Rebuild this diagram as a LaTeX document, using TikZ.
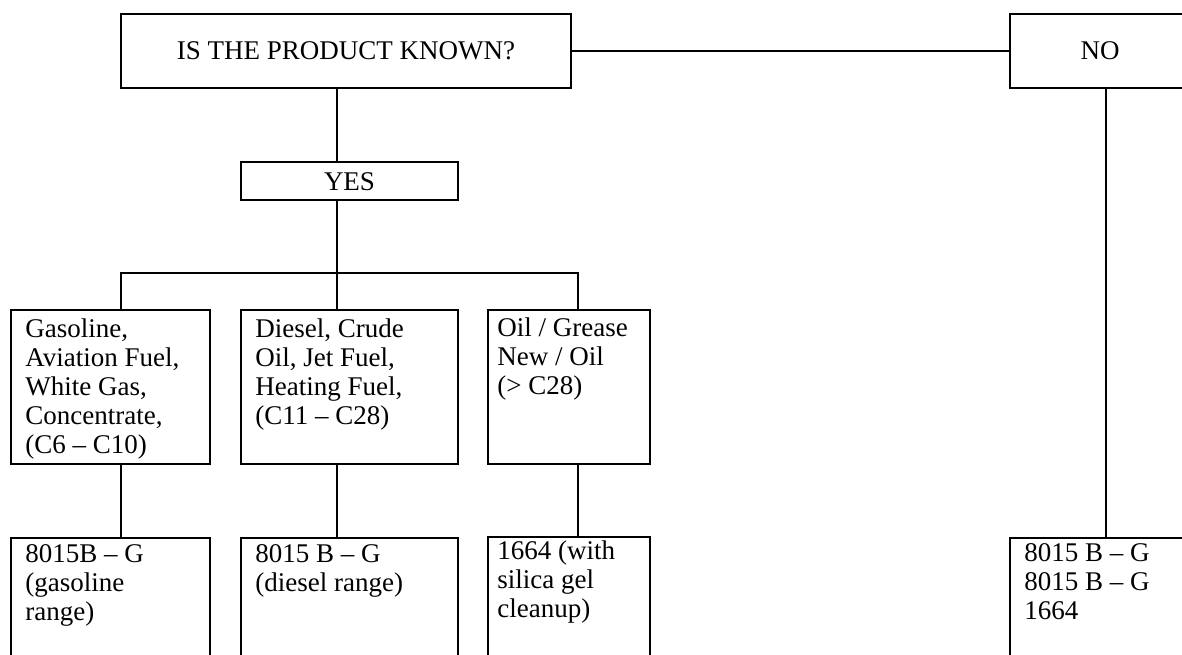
\documentclass[tikz,border=0pt]{standalone}
\usepackage{fontspec}
\setmainfont{Liberation Serif}
\tikzset{PKbox/.style={draw,line width=1.1pt,inner sep=0pt,font=\fontsize{13.5}{14.5}\selectfont},
         PKtxt/.style={inner sep=0pt,anchor=base west,font=\fontsize{13.5}{14.5}\selectfont},
         PKlink/.style={line width=1.1pt}}
\newcommand{\PKlines}[1]{\parbox[t]{5cm}{\raggedright #1}}

\begin{document}
\begin{tikzpicture}[x=0.5pt,y=-0.5pt]
  \useasboundingbox (0,0) rectangle (1182,654);
  \clip (0,0) rectangle (1182,654);
  % question and answers
  \node[PKbox,minimum width=225.2pt,minimum height=37.3pt] (q) at (345.9,51) {IS THE PRODUCT KNOWN?};
  \node[PKbox,minimum width=90pt,minimum height=37.3pt] (no) at (1100,51) {NO};
  \node[PKbox,minimum width=108.8pt,minimum height=18.9pt] (yes) at (349.5,181.2) {YES};
  % product boxes
  \node[PKbox,minimum width=99.5pt,minimum height=77pt] (b1) at (110.5,387) {};
  \node[PKbox,minimum width=108.8pt,minimum height=77pt] (b2) at (349.5,387) {};
  \node[PKbox,minimum width=80.9pt,minimum height=77pt] (b3) at (569.2,387) {};
  \node[PKtxt] (t1) at ([shift={(15,29)}]b1.north west) {\PKlines{Gasoline,\\Aviation Fuel,\\White Gas,\\Concentrate,\\(C6 -- C10)}};
  \node[PKtxt] (t2) at ([shift={(15.3,29)}]b2.north west) {\PKlines{Diesel, Crude\\Oil, Jet Fuel,\\Heating Fuel,\\(C11 -- C28)}};
  \node[PKtxt] (t3) at ([shift={(9.7,28)}]b3.north west) {\PKlines{Oil / Grease\\New / Oil\\(\textgreater{} C28)}};
  % method boxes (cut off by the page)
  \node[PKbox,minimum width=99.5pt,minimum height=81pt] (b4) at (110.5,619) {};
  \node[PKbox,minimum width=108.8pt,minimum height=81pt] (b5) at (349.5,619) {};
  \node[PKbox,minimum width=80.9pt,minimum height=81pt] (b6) at (569.2,617.7) {};
  \node[PKbox,minimum width=90pt,minimum height=81pt] (b7) at (1100,618.7) {};
  \node[PKtxt] (t4) at ([shift={(15,26)}]b4.north west) {\PKlines{8015B -- G\\(gasoline\\range)}};
  \node[PKtxt] (t5) at ([shift={(15.3,26)}]b5.north west) {\PKlines{8015 B -- G\\(diesel range)}};
  \node[PKtxt] (t6) at ([shift={(9.7,24.3)}]b6.north west) {\PKlines{1664 (with\\silica gel\\cleanup)}};
  \node[PKtxt] (t7) at ([shift={(15,25.3)}]b7.north west) {\PKlines{8015 B -- G\\8015 B -- G\\1664}};
  % junctions
  \coordinate (trunk) at (336.7,272.7);
  \coordinate (j1) at (120.7,272.7);
  \coordinate (j3) at (577.7,272.7);
  \coordinate (jn) at (1105.7,272.7);
  \draw[PKlink] (q.east) -- (no.west);
  \draw[PKlink] (trunk |- q.south) -- (trunk |- yes.north);
  \draw[PKlink] (trunk |- yes.south) -- (trunk |- b2.north);
  \draw[PKlink] (j1 |- b1.north) -- (j1) -- (j3) -- (j3 |- b3.north);
  \draw[PKlink] (jn |- no.south) -- (jn |- b7.north);
  \foreach \j/\a/\b in {j1/b1/b4,trunk/b2/b5,j3/b3/b6}
    \draw[PKlink] (\j |- \a.south) -- (\j |- \b.north);
\end{tikzpicture}
\end{document}
